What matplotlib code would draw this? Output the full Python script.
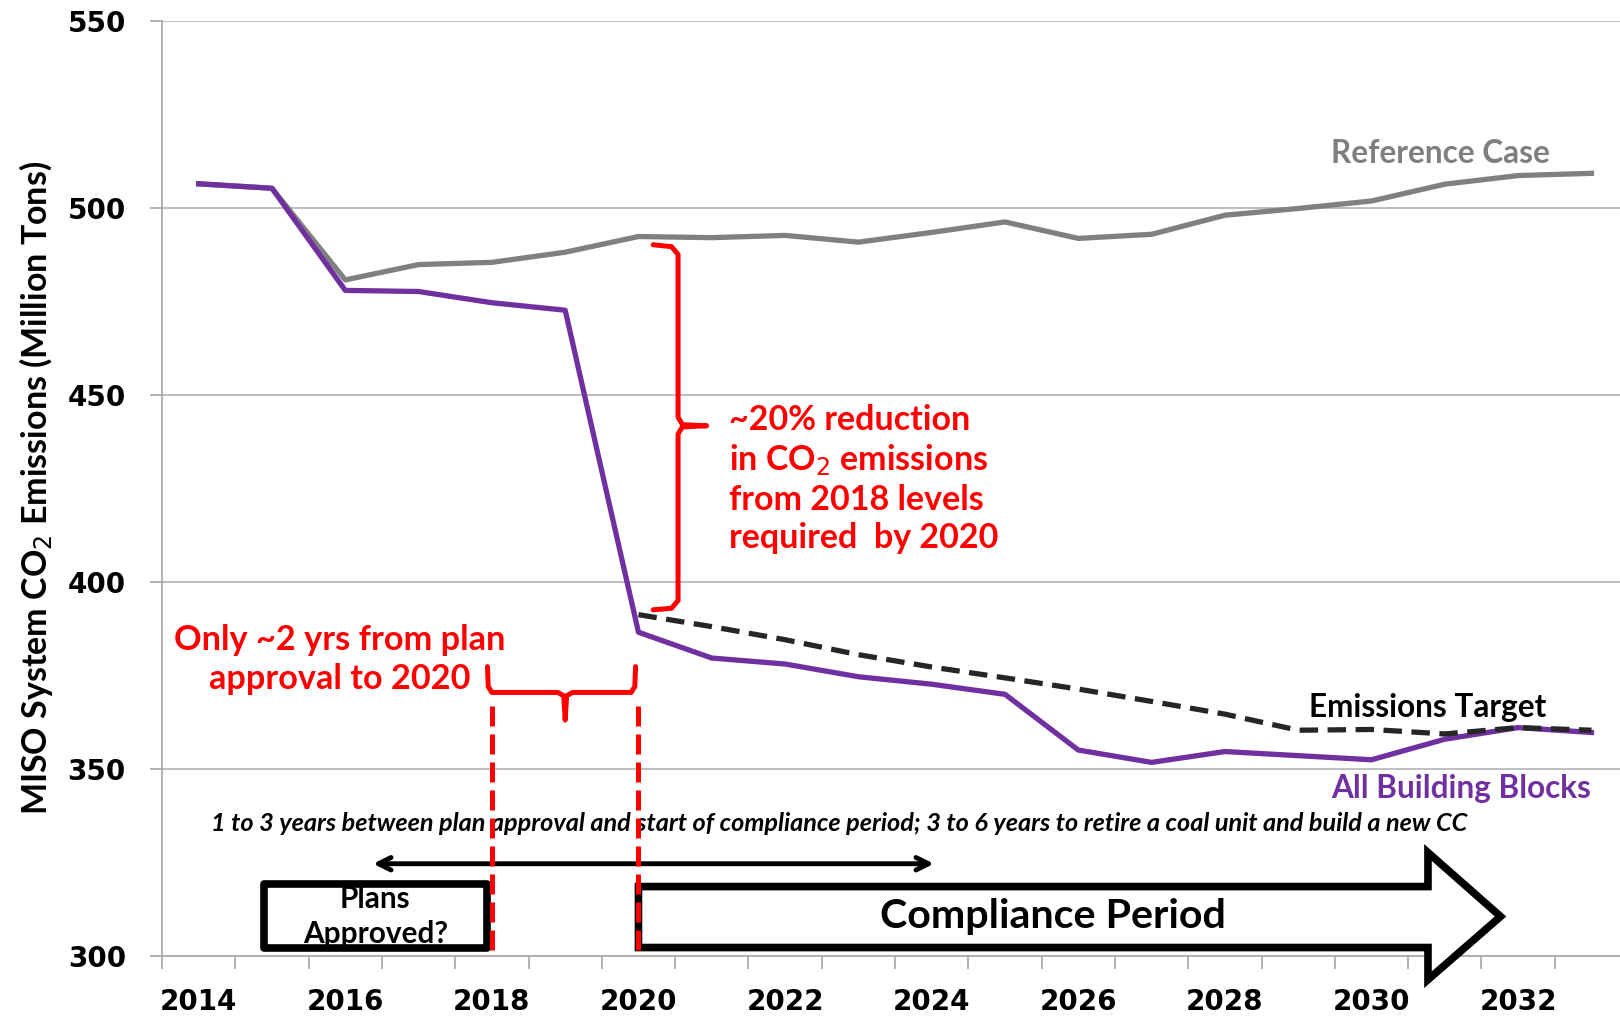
import matplotlib.pyplot as plt
from matplotlib.patches import Rectangle, Polygon
import numpy as np

years = list(range(2014, 2034))
all_building_blocks = [506.4, 505.2, 477.9, 477.6, 474.6, 472.6, 386.5, 379.6, 378.0, 374.6,
                       372.6, 369.9, 355.0, 351.7, 354.6, 353.5, 352.4, 357.9, 361.0, 359.7]
reference_case = [506.4, 505.2, 480.7, 484.8, 485.4, 488.1, 492.3, 492.0, 492.6, 490.8,
                  493.4, 496.2, 491.8, 492.9, 498.0, 499.8, 501.8, 506.3, 508.6, 509.2]
target_years = list(range(2020, 2034))
emissions_target = [391.2, 388.0, 384.5, 380.5, 377.2, 374.3, 371.3, 368.0, 364.6, 360.3,
                    360.5, 359.3, 361.0, 360.3]
tick_years = list(range(2014, 2034, 2))

CAL = ['Lato', 'DejaVu Sans']
RED = '#ff0000'

x = np.arange(len(years))
xt = np.array([years.index(y) for y in target_years])

fig = plt.figure(figsize=(16.2, 10.16), dpi=100)
ax = fig.add_axes([0.1, 0.0593, 0.905, 0.9203])

ax.plot(x, reference_case, color='#808080', lw=3.8, zorder=3, solid_joinstyle='round')
ax.plot(x, all_building_blocks, color='#7030a0', lw=3.8, zorder=4, solid_joinstyle='round')
ax.plot(xt, emissions_target, color='#262626', lw=3.8, ls=(0, (3.5, 1.8)), zorder=5)

ax.set_xlim(-0.5, len(years) - 0.5)
ax.set_ylim(300, 550)
ax.set_yticks(range(300, 551, 50))
ax.grid(axis='y', color='#b3b3b3', lw=1.2)
ax.set_axisbelow(True)
for s in ['top', 'right']:
    ax.spines[s].set_visible(False)
for s in ['left', 'bottom']:
    ax.spines[s].set_color('#a6a6a6')
    ax.spines[s].set_linewidth(1.2)

ax.set_xticks(np.arange(-0.5, len(years), 1.0))
ax.set_xticklabels([])
ax.set_xticks([years.index(y) for y in tick_years], [str(y) for y in tick_years], minor=True)
ax.tick_params(axis='x', which='major', length=9, color='#a6a6a6', width=1.2)
ax.tick_params(axis='x', which='minor', length=0, pad=23)
ax.tick_params(axis='y', length=9, color='#a6a6a6', width=1.2, pad=17)
for lab in ax.get_xticklabels(minor=True) + ax.get_yticklabels():
    lab.set_fontfamily('DejaVu Sans')
    lab.set_fontweight('bold')
    lab.set_fontsize(20)

fig.text(36 / 1620, 1 - 488 / 1016, 'MISO System CO$_2$ Emissions (Million Tons)',
         fontsize=24.5, family=CAL, fontweight='bold', rotation=90, ha='center', va='center')

# series labels
ax.text(16.94, 514.6, 'Reference Case', color='#7f7f7f', fontsize=22.7, family=CAL,
        fontweight='bold', ha='center', va='center')
ax.text(16.77, 366.3, 'Emissions Target', color='black', fontsize=22.7, family=CAL,
        fontweight='bold', ha='center', va='center')
ax.text(17.22, 344.8, 'All Building Blocks', color='#7030a0', fontsize=22.7, family=CAL,
        fontweight='bold', ha='center', va='center')

# right brace between reference and target in 2020
bx = [6.2, 6.45, 6.54, 6.54, 6.6, 6.93, 6.6, 6.54, 6.54, 6.45, 6.2]
by = [490.1, 489.6, 487.5, 444.0, 442.0, 441.7, 441.4, 439.5, 395.0, 392.9, 392.5]
ax.plot(bx, by, color=RED, lw=3.6, solid_joinstyle='round', solid_capstyle='round', zorder=6)
ax.text(7.24, 427.5, '~20% reduction\nin CO$_2$ emissions\nfrom 2018 levels\nrequired  by 2020',
        color=RED, fontsize=24.5, family=CAL, fontweight='bold', ha='left', va='center',
        linespacing=1.22)

# horizontal brace 2018-2020
hx = [3.94, 3.95, 4.0, 4.9, 4.98, 5.0, 5.02, 5.1, 5.9, 5.95, 5.96]
hy = [377.3, 372.0, 370.4, 370.4, 369.5, 363.0, 369.5, 370.4, 370.4, 372.0, 377.3]
ax.plot(hx, hy, color=RED, lw=3.6, solid_joinstyle='round', solid_capstyle='round', zorder=6)
ax.text(1.93, 379.2, 'Only ~2 yrs from plan\napproval to 2020', color=RED, fontsize=24.7,
        family=CAL, fontweight='bold', ha='center', va='center', linespacing=1.3)

for xv in [years.index(2018), years.index(2020)]:
    ax.plot([xv, xv], [366.9, 300], color=RED, lw=3.6, ls=(0, (4, 1.6)), zorder=7,
            clip_on=False)

ax.text(8.74, 335.4, '1 to 3 years between plan approval and start of compliance period; '
        '3 to 6 years to retire a coal unit and build a new CC', fontsize=18.2,
        family=CAL, fontweight='bold', fontstyle='italic', ha='center', va='center')

ax.annotate('', xy=(2.38, 324.6), xytext=(10.03, 324.6),
            arrowprops=dict(arrowstyle='<->,head_length=0.9,head_width=0.45', color='black',
                            lw=3.5, shrinkA=0, shrinkB=0))

ax.add_patch(Rectangle((0.885, 302.2), 3.94 - 0.885, 319.3 - 302.2, facecolor='white',
                       edgecolor='black', lw=5.5, zorder=6, joinstyle='round'))
ax.text(2.41, 310.4, 'Plans\nApproved?', fontsize=21.4, family=CAL, fontweight='bold',
        ha='center', va='center', zorder=8, linespacing=1.3)

arrow_pts = [(6.0, 318.5), (16.77, 318.5), (16.77, 327.6), (17.76, 310.5),
             (16.77, 293.6), (16.77, 302.2), (6.0, 302.2)]
ax.add_patch(Polygon(arrow_pts, closed=True, facecolor='white', edgecolor='black', lw=5.5,
                     zorder=6, clip_on=False))
ax.text(11.65, 310.5, 'Compliance Period', fontsize=29.7, family=CAL, fontweight='bold',
        ha='center', va='center', zorder=8)

fig.savefig('out.png', dpi=100, facecolor='white')
